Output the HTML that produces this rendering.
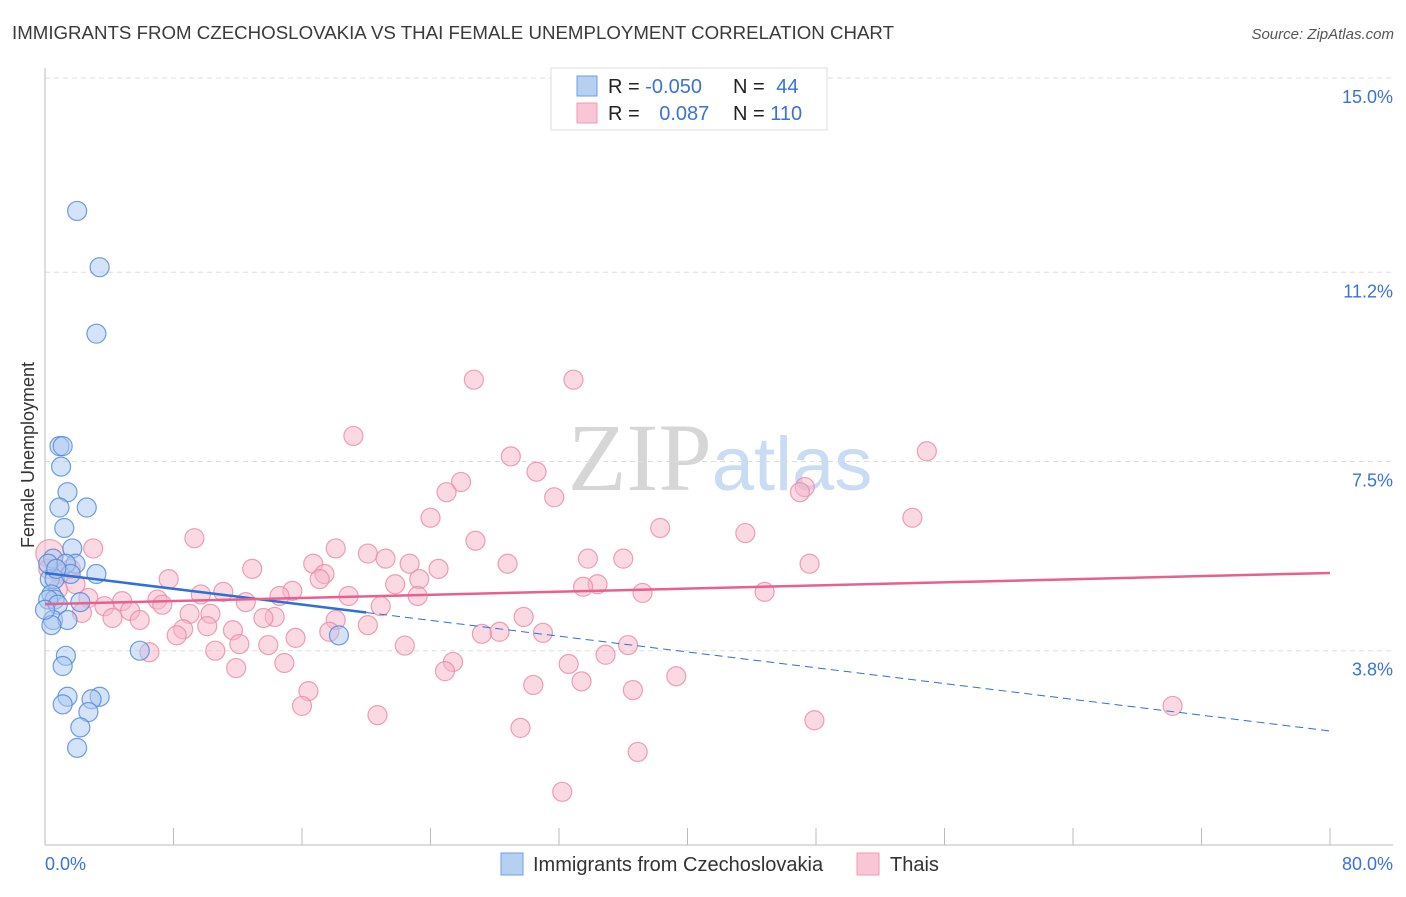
<!DOCTYPE html>
<html><head><meta charset="utf-8"><style>
body{margin:0;background:#fff;font-family:"Liberation Sans",sans-serif}
svg text{font-family:"Liberation Sans",sans-serif}
</style></head><body>
<svg id="chart" width="1406" height="892" xmlns="http://www.w3.org/2000/svg">
<text x="12" y="39" font-size="18" fill="#3a3a3a" textLength="882" lengthAdjust="spacingAndGlyphs">IMMIGRANTS FROM CZECHOSLOVAKIA VS THAI FEMALE UNEMPLOYMENT CORRELATION CHART</text>
<text x="1394" y="39" font-size="15" fill="#555" text-anchor="end" font-style="italic">Source: ZipAtlas.com</text>
<text x="720" y="490" font-size="96" text-anchor="middle"><tspan font-family="Liberation Serif" fill="#d6d6d6">ZIP</tspan><tspan fill="#c9dcf3" font-size="76">atlas</tspan></text>
<g id="grid"></g><g id="axes"></g><g id="trend"></g><g id="pts"></g>
<text transform="translate(34,455) rotate(-90)" font-size="18" fill="#333" text-anchor="middle">Female Unemployment</text>
<g>
<rect x="551" y="68" width="276" height="62" fill="#fff" stroke="#ddd"/>
<rect x="577" y="76" width="20" height="20" fill="#b6d0f4" stroke="#6f9ee0"/>
<rect x="577" y="103" width="20" height="20" fill="#f8c6d5" stroke="#ec9bb5"/>
<text x="608" y="93" font-size="20" fill="#222">R = <tspan fill="#3a72d6">-0.050</tspan></text>
<text x="733" y="93" font-size="20" fill="#222">N = <tspan fill="#3a72d6" dx="6">44</tspan></text>
<text x="608" y="120" font-size="20" fill="#222">R = <tspan fill="#3a72d6" dx="14">0.087</tspan></text>
<text x="733" y="120" font-size="20" fill="#222">N = <tspan fill="#3a72d6">110</tspan></text>
</g>
<g>
<rect x="501" y="853" width="22" height="22" fill="#b6d0f4" stroke="#6f9ee0"/>
<text x="533" y="871" font-size="20" fill="#333">Immigrants from Czechoslovakia</text>
<rect x="857" y="853" width="22" height="22" fill="#f8c6d5" stroke="#ec9bb5"/>
<text x="890" y="871" font-size="20" fill="#333">Thais</text>
</g>
</svg>
<script>
const yTicks=[3.8,7.5,11.2,15.0];
const yTickLabels=["3.8%","7.5%","11.2%","15.0%"];
const xTickCount=11;
const xLabels=["0.0%","80.0%"];
const czechX=[2.0,3.4,3.2,0.9,1.1,1.0,1.4,0.9,2.6,1.2,1.7,0.5,1.9,1.3,3.2,0.3,0.6,0.4,0.6,2.2,0.2,0.8,0.5,1.4,0.4,18.3,5.9,1.3,1.1,1.4,3.4,1.1,2.9,2.7,2.2,2.0,0.2,1.6,0.0,0.7];
const czechY=[12.4,11.3,10.0,7.8,7.8,7.4,6.9,6.6,6.6,6.2,5.8,5.6,5.5,5.5,5.3,5.2,5.2,4.9,4.8,4.75,4.8,4.7,4.4,4.4,4.3,4.1,3.8,3.7,3.5,2.9,2.9,2.75,2.85,2.6,2.3,1.9,5.5,5.3,4.6,5.4];
const thaiX=[26.7,32.9,19.2,54.9,29.0,30.6,25.9,25.0,47.3,47.0,31.7,24.0,54.0,38.3,43.6,9.3,26.8,3.0,18.1,20.1,21.2,33.8,36.0,28.8,16.7,22.7,12.9,47.6,24.5,17.4,17.1,7.7,21.8,23.3,34.4,33.5,15.4,11.1,37.2,44.8,9.7,14.6,18.9,23.2,2.7,7.0,4.8,12.5,20.9,7.3,3.7,5.3,2.3,10.3,9.0,14.3,4.2,5.9,13.6,29.8,18.1,20.1,10.1,8.6,11.7,28.3,8.2,27.2,31.0,15.6,17.7,22.4,12.1,13.9,6.5,36.3,10.6,34.9,25.4,14.9,32.6,11.9,24.9,39.3,33.4,30.4,16.4,36.6,16.0,20.7,70.2,47.9,29.6,36.9,32.2,0.3,1.6,0.9,1.9,0.8,0.2];
const thaiY=[9.1,9.1,8.0,7.7,7.6,7.3,7.1,6.9,7.0,6.9,6.8,6.4,6.4,6.2,6.1,6.0,5.95,5.8,5.8,5.7,5.6,5.6,5.6,5.5,5.5,5.5,5.4,5.5,5.4,5.3,5.2,5.2,5.1,5.2,5.1,5.05,4.97,4.95,4.93,4.95,4.9,4.87,4.87,4.87,4.83,4.8,4.77,4.75,4.67,4.7,4.67,4.58,4.54,4.52,4.52,4.46,4.44,4.4,4.44,4.46,4.4,4.3,4.28,4.22,4.2,4.17,4.1,4.13,4.15,4.05,4.17,3.9,3.93,3.91,3.77,3.91,3.8,3.72,3.58,3.56,3.54,3.46,3.4,3.3,3.2,3.13,3.01,3.03,2.72,2.54,2.72,2.44,2.29,1.82,1.04,5.7,5.4,5.3,5.1,5.0,5.4];
const czechTrend=[5.32,2.23];
const czechSolidEnd=20;
const thaiTrend=[4.71,5.32];
const X0=45,X1=1330,Y0=845,Y15=78;
const sx=v=>X0+(X1-X0)*v/80;
const sy=v=>Y0-(Y0-Y15)*v/15;
const NS="http://www.w3.org/2000/svg";
function mk(tag,parent,attrs){const e=document.createElementNS(NS,tag);for(const k in attrs)e.setAttribute(k,attrs[k]);parent.appendChild(e);return e;}
const grid=document.getElementById('grid'),axes=document.getElementById('axes'),trend=document.getElementById('trend'),pts=document.getElementById('pts');
yTicks.forEach((t,i)=>{
 const l=mk('line',grid,{x1:X0,x2:1393,y1:sy(t),y2:sy(t),stroke:'#ddd','stroke-dasharray':'5,4'});
 
 
 const tx=mk('text',grid,{x:1393,y:sy(t)+25,'font-size':18,fill:'#3a72d6','text-anchor':'end'});
 tx.textContent=yTickLabels[i];
 
 
});
const ya=mk('line',axes,{x1:X0,x2:X0,y1:68,y2:Y0,stroke:'#bbb'});


const xa=mk('line',axes,{x1:X0,x2:1393,y1:Y0,y2:Y0,stroke:'#bbb'});


for(let i=0;i<xTickCount;i++){
 const v=80*i/(xTickCount-1);
 const t=mk('line',axes,{x1:sx(v),x2:sx(v),y1:828,y2:Y0,stroke:'#bbb'});
 
 
}
[[0,'start',45],[80,'end',1393]].forEach((d,i)=>{
 const tx=mk('text',axes,{x:d[2],y:870,'font-size':18,fill:'#3a72d6','text-anchor':d[1]});
 tx.textContent=xLabels[i];
 
 
});
function drawPts(xs,ys,fill,stroke,name){
 xs.forEach((x,i)=>{
  const c=mk('circle',pts,{cx:sx(x),cy:sy(ys[i]),r:(name==='thai-point'&&i===95)?14:9.5,fill:fill,'fill-opacity':0.5,stroke:stroke,'stroke-width':1.2,'stroke-opacity':0.8});
  
  
 });
}
drawPts(thaiX,thaiY,'#f5b3c7','#e98aa8','thai-point');
drawPts(czechX,czechY,'#a9c7f1','#4f86d8','czech-point');
const ty=x=>czechTrend[0]+(czechTrend[1]-czechTrend[0])*x/80;
const b1=mk('line',trend,{x1:sx(0),y1:sy(ty(0)),x2:sx(czechSolidEnd),y2:sy(ty(czechSolidEnd)),stroke:'#2f6fd6','stroke-width':2.5});


const b2=mk('line',trend,{x1:sx(czechSolidEnd),y1:sy(ty(czechSolidEnd)),x2:sx(80),y2:sy(ty(80)),stroke:'#2f6fd6','stroke-width':1,'stroke-dasharray':'8,5'});


const p1=mk('line',trend,{x1:sx(0),y1:sy(thaiTrend[0]),x2:sx(80),y2:sy(thaiTrend[1]),stroke:'#e8608d','stroke-width':2.5});


document.getElementById('chart').appendChild(trend);
</script>
</body></html>
